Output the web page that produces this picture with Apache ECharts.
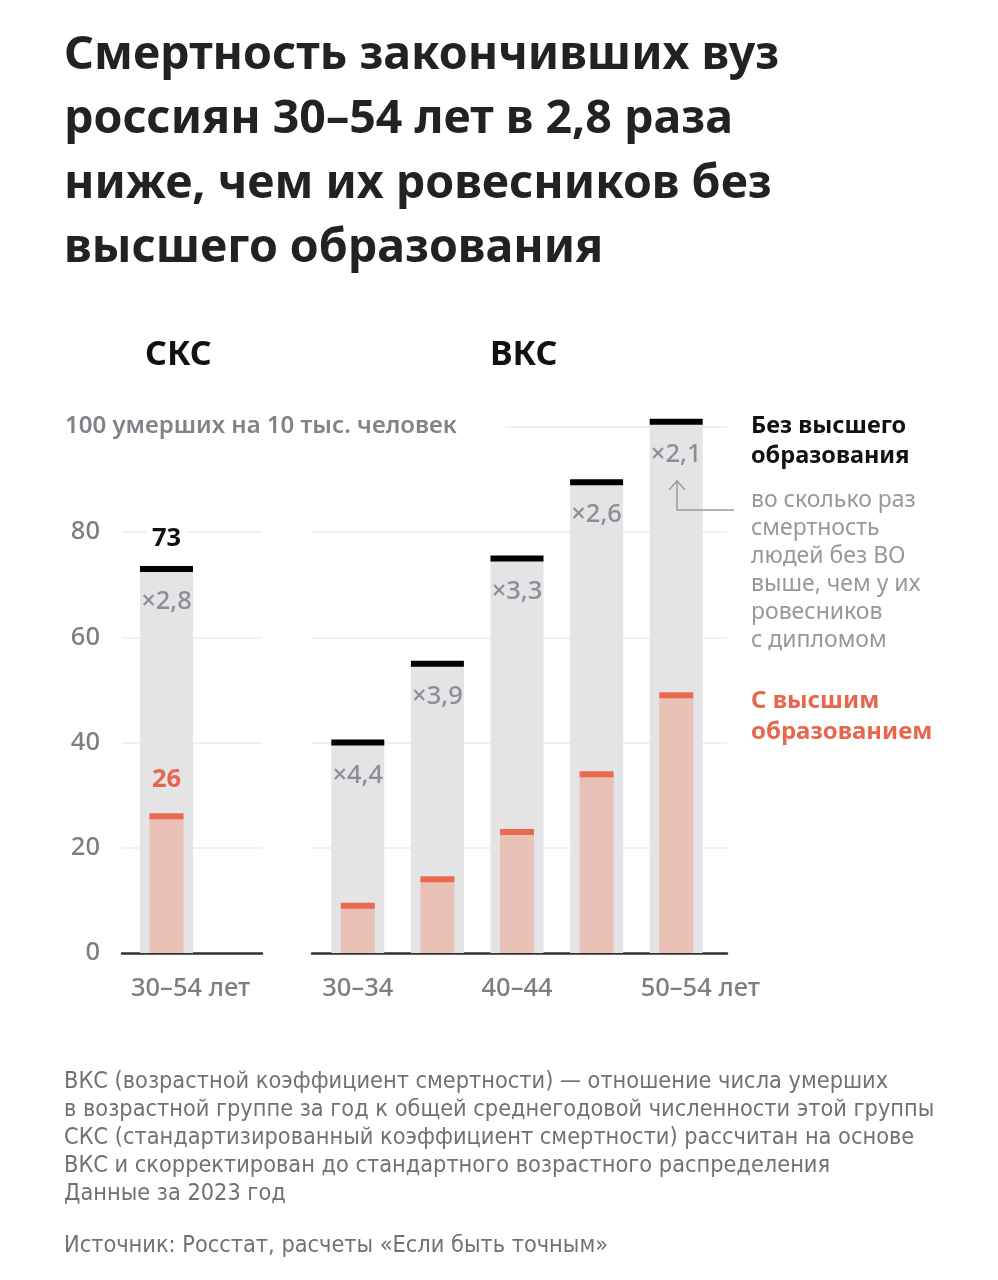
<!DOCTYPE html>
<html><head><meta charset="utf-8">
<script src="https://cdn.jsdelivr.net/npm/echarts@6/dist/echarts.min.js"></script>
<style>html,body{margin:0;padding:0;background:#fff}#c{width:998px;height:1280px}</style>
</head><body><div id="c"></div>
<script>
// ---- data ----
const titleText = 'Смертность закончивших вуз\nроссиян 30–54 лет в 2,8 раза\nниже, чем их ровесников без\nвысшего образования';
const unitLabel = '100 умерших на 10 тыс. человек';
const panelSKS = 'СКС';
const panelVKS = 'ВКС';
const sksCategories = ['30–54 лет'];
const sksNoHigher = [73];
const sksHigher = [26];
const sksRatio = ['×2,8'];
const vksCategories = ['30–34', '35–39', '40–44', '45–49', '50–54 лет'];
const vksNoHigher = [40, 55, 75, 89.5, 101];
const vksHigher = [9, 14, 23, 34, 49];
const vksRatio = ['×4,4', '×3,9', '×3,3', '×2,6', '×2,1'];
const yTicks = [0, 20, 40, 60, 80, 100];
const legendNoHigher = 'Без высшего\nобразования';
const legendNote = 'во сколько раз\nсмертность\nлюдей без ВО\nвыше, чем у их\nровесников\nс дипломом';
const legendHigher = 'С высшим\nобразованием';
const footnote = 'ВКС (возрастной коэффициент смертности) — отношение числа умерших\nв возрастной группе за год к общей среднегодовой численности этой группы\nСКС (стандартизированный коэффициент смертности) рассчитан на основе\nВКС и скорректирован до стандартного возрастного распределения\nДанные за 2023 год';
const source = 'Источник: Росстат, расчеты «Если быть точным»';

// ---- styles ----
const FONT = '"Noto Sans", "DejaVu Sans", sans-serif';
const NARROW = '"Liberation Sans Narrow", "DejaVu Sans Condensed", "Roboto Condensed", sans-serif';
const GRAY_BAR = '#e4e3e5', PINK = '#e9c1b7', ORANGE = '#ea6a4f', BLACK = '#000000';
const AXIS_TXT = '#7c7e83', RATIO_TXT = '#8c8e93';
const TOP = 427, H = 526;
const yMax = yTicks[yTicks.length - 1], yInt = yTicks[1] - yTicks[0];
const TICK_FS = 25.5;

const chart = echarts.init(document.getElementById('c'), null, {renderer: 'canvas'});

function yAx(gi, showLabels) {
  return {
    type: 'value', gridIndex: gi, min: yTicks[0], max: yMax, interval: yInt,
    axisLine: {show: false}, axisTick: {show: false},
    axisLabel: showLabels ? {
      show: true, margin: 22, color: AXIS_TXT, fontSize: TICK_FS, fontFamily: FONT, fontWeight: 500,
      formatter: v => (v === yMax ? '' : String(v))
    } : {show: false},
    splitLine: showLabels !== null ? {show: true, lineStyle: {color: '#ebebeb', width: 1.5}} : {show: false}
  };
}
function catLabel() {
  return {
    show: true, margin: 23, interval: 1, color: AXIS_TXT, fontSize: TICK_FS, fontFamily: FONT, fontWeight: 500,
    formatter: v => v.endsWith(' лет') ? '{h|лет }{t|' + v + '}' : '{t|' + v + '}',
    rich: {
      h: {color: 'transparent', fontSize: TICK_FS, fontFamily: FONT, fontWeight: 500},
      t: {color: AXIS_TXT, fontSize: TICK_FS, fontFamily: FONT, fontWeight: 500}
    }
  };
}

const option = {
  backgroundColor: '#fff',
  animation: false,
  title: [
    {text: titleText, left: 64, top: 23, padding: 0,
     textStyle: {fontFamily: FONT, fontSize: 46.5, fontWeight: 700, color: '#222', lineHeight: 64.5}},
    {text: panelSKS, left: 145, top: 338, padding: 0,
     textStyle: {fontFamily: FONT, fontSize: 34, fontWeight: 700, color: '#111'}},
    {text: panelVKS, left: 490, top: 338, padding: 0,
     textStyle: {fontFamily: FONT, fontSize: 34, fontWeight: 700, color: '#111'}},
    {text: unitLabel, left: 65, top: 413, padding: [1, 49, 1, 0], backgroundColor: '#fff',
     textStyle: {fontFamily: FONT, fontSize: 24, fontWeight: 600, color: '#818388'}},
    {text: legendNoHigher, left: 751, top: 411, padding: 0,
     textStyle: {fontFamily: FONT, fontSize: 23.5, fontWeight: 700, color: '#111', lineHeight: 30}},
    {text: legendNote, left: 751, top: 486, padding: 0,
     textStyle: {fontFamily: FONT, fontSize: 23, fontWeight: 400, color: '#96989c', lineHeight: 28}},
    {text: legendHigher, left: 751, top: 686, padding: 0,
     textStyle: {fontFamily: FONT, fontSize: 24, fontWeight: 700, color: '#e8664b', lineHeight: 31}},
    {text: footnote, left: 64, top: 1068, padding: 0,
     textStyle: {fontFamily: NARROW, fontSize: 23.3, fontWeight: 400, color: '#6f7175', lineHeight: 28}},
    {text: source, left: 64, top: 1232, padding: 0,
     textStyle: {fontFamily: NARROW, fontSize: 23.3, fontWeight: 400, color: '#6f7175', lineHeight: 28}}
  ],
  grid: [
    {left: 122, top: TOP, width: 140, height: H},   // 0 bg left
    {left: 312, top: TOP, width: 415, height: H},   // 1 bg right
    {left: 122, top: TOP, width: 89, height: H},    // 2 bars left
    {left: 318, top: TOP, width: 398, height: H}    // 3 bars right
  ],
  xAxis: [
    {type: 'value', gridIndex: 0, min: 0, max: 1, axisLine: {show: true, onZero: false, lineStyle: {color: '#333', width: 2.5}}, axisTick: {show: false}, axisLabel: {show: false}, splitLine: {show: false}},
    {type: 'value', gridIndex: 1, min: 0, max: 1, axisLine: {show: true, onZero: false, lineStyle: {color: '#333', width: 2.5}}, axisTick: {show: false}, axisLabel: {show: false}, splitLine: {show: false}},
    {type: 'category', gridIndex: 2, data: sksCategories, axisLine: {show: false}, axisTick: {show: false}, axisLabel: catLabel()},
    {type: 'category', gridIndex: 2, data: sksCategories, show: false},
    {type: 'category', gridIndex: 3, data: vksCategories, axisLine: {show: false}, axisTick: {show: false}, axisLabel: catLabel()},
    {type: 'category', gridIndex: 3, data: vksCategories, show: false}
  ],
  yAxis: [yAx(0, true), yAx(1, false), yAx(2, null), yAx(3, null)],
  series: [],
  graphic: [
    {type: 'polyline', shape: {points: [[677, 482], [677, 510], [734, 510]]}, style: {stroke: '#9b9b9b', lineWidth: 1.5, fill: null}, z: 10},
    {type: 'polyline', shape: {points: [[669, 490], [677, 481], [685, 490]]}, style: {stroke: '#9b9b9b', lineWidth: 1.5, fill: null}, z: 10}
  ]
};

function addPanel(xGray, xPink, yIdx, noH, hi, ratio, showValues) {
  option.series.push({
    type: 'bar', xAxisIndex: xGray, yAxisIndex: yIdx, data: noH, barWidth: 53, clip: false,
    itemStyle: {color: GRAY_BAR}, z: 2,
    label: {show: true, position: 'insideTop', distance: 20, formatter: p => ratio[p.dataIndex],
      color: RATIO_TXT, fontSize: TICK_FS, fontFamily: FONT, fontWeight: 500}
  });
  option.series.push({
    type: 'bar', xAxisIndex: xPink, yAxisIndex: yIdx, data: hi, barWidth: 34, clip: false,
    itemStyle: {color: PINK}, z: 3
  });
  option.series.push({
    type: 'scatter', xAxisIndex: xGray, yAxisIndex: yIdx, data: noH, symbol: 'rect', symbolSize: [53, 6], clip: false,
    itemStyle: {color: BLACK, opacity: 1}, z: 4,
    label: showValues ? {show: true, position: 'top', distance: 14, formatter: p => String(p.value),
      color: '#111', fontSize: 25.5, fontFamily: FONT, fontWeight: 700, backgroundColor: '#fff', padding: [0, 6]} : {show: false}
  });
  option.series.push({
    type: 'scatter', xAxisIndex: xPink, yAxisIndex: yIdx, data: hi, symbol: 'rect', symbolSize: [34, 6], clip: false,
    itemStyle: {color: ORANGE, opacity: 1}, z: 4,
    label: showValues ? {show: true, position: 'top', distance: 21, formatter: p => String(p.value),
      color: '#e8664b', fontSize: 25.5, fontFamily: FONT, fontWeight: 700} : {show: false}
  });
}
addPanel(2, 3, 2, sksNoHigher, sksHigher, sksRatio, true);
addPanel(4, 5, 3, vksNoHigher, vksHigher, vksRatio, false);

chart.setOption(option);
</script>
</body></html>
